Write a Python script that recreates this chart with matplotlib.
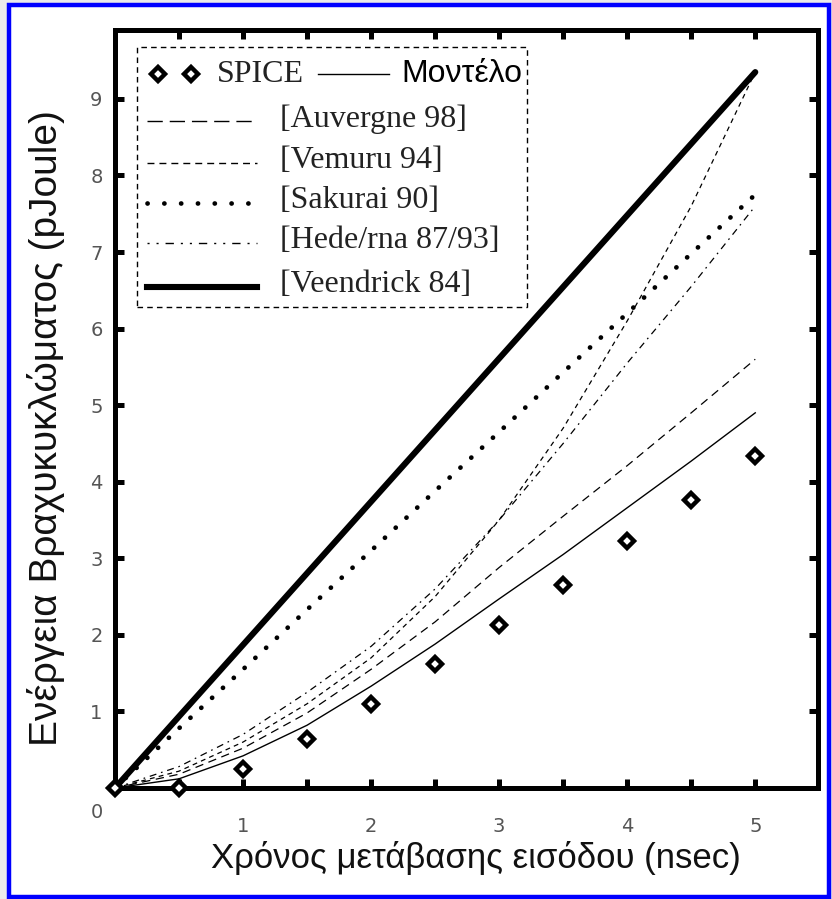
import numpy as np
import matplotlib.pyplot as plt
from matplotlib.lines import Line2D
from matplotlib.patches import Rectangle

plt.rcParams['lines.scale_dashes'] = False

# values (energy in pJoule vs input transition time in nsec)
t = [0, 0.5, 1, 1.5, 2, 2.5, 3, 3.5, 4, 4.5, 5]
spice = [0, 0, 0.25, 0.64, 1.10, 1.62, 2.13, 2.65, 3.22, 3.76, 4.33]
model = [0, 0.12, 0.42, 0.82, 1.33, 1.88, 2.47, 3.05, 3.66, 4.27, 4.90]
auvergne = [0, 0.18, 0.52, 0.98, 1.55, 2.17, 2.88, 3.55, 4.21, 4.90, 5.60]
vemuru = [0, 0.22, 0.60, 1.10, 1.70, 2.50, 3.50, 4.70, 6.10, 7.60, 9.35]
hede = [0, 0.28, 0.70, 1.25, 1.85, 2.60, 3.50, 4.50, 5.55, 6.55, 7.60]
sakurai = [0, 0.78, 1.55, 2.33, 3.10, 3.88, 4.65, 5.43, 6.20, 6.98, 7.75]
t_veen = [0, 5]
veendrick = [0, 9.35]

x_major = [1, 2, 3, 4, 5]
x_minor = [0.5, 1.5, 2.5, 3.5, 4.5]
y_major = [1, 2, 3, 4, 5, 6, 7, 8, 9]

W, H = 832, 899
fig = plt.figure(figsize=(W / 100, H / 100), dpi=100, facecolor='#ebebeb')


def fx(px):
    return px / W


def fy(py):
    return 1 - py / H


fig.patches.append(Rectangle((fx(9), fy(897)), fx(820), (897 - 5) / H,
                             transform=fig.transFigure, facecolor='white',
                             edgecolor='#0000ff', lw=3.2, zorder=-5))

ax = fig.add_axes([fx(115), fy(788), (818 - 115) / W, (788 - 30) / H])
ax.set_facecolor('none')
ax.set_xlim(0, 5.49)
ax.set_ylim(0, 9.9)

for s in ax.spines.values():
    s.set_linewidth(3.6)
ax.set_xticks(x_major)
ax.set_xticks(x_minor, minor=True)
ax.set_yticks(y_major)
ax.tick_params(which='both', direction='in', length=6.2, width=3.6,
               top=True, right=True, labelsize=14, labelcolor='#555555')
ax.tick_params(axis='x', pad=21)
ax.tick_params(axis='y', pad=9)
fig.text(fx(97), fy(812), '0', fontsize=14, color='#555555', ha='center', va='center')

ax.plot(t_veen, veendrick, color='black', lw=4.4, solid_capstyle='round', clip_on=False)
ax.plot(t, sakurai, color='black', lw=3.4, linestyle=(0, (0.1, 10.5)),
        dash_capstyle='round')
ax.plot(t, vemuru, color='black', lw=0.9, linestyle=(0, (3.5, 3)))
ax.plot(t, hede, color='black', lw=0.9, linestyle=(0, (5, 3.5, 1.2, 3.5)))
ax.plot(t, auvergne, color='black', lw=0.9, linestyle=(0, (6, 4)))
ax.plot(t, model, color='black', lw=1.0)
ax.plot(t, spice, linestyle='none', marker='D', markersize=7.2, mew=3.2,
        mec='black', mfc='white', clip_on=False, zorder=5)

# legend drawn by hand, it has two entries on its first row
fig.patches.append(Rectangle((fx(137), fy(307)), (527 - 137) / W, (307 - 47) / H,
                             transform=fig.transFigure, fill=False, edgecolor='black',
                             lw=1.0, linestyle=(0, (4, 3)), zorder=6))
serif = dict(fontsize=23, family='Liberation Serif', color='#222222', va='center')
for px in (158, 191):
    fig.lines.append(Line2D([fx(px)], [fy(74)], marker='D', markersize=7.2, mew=3.2,
                            mec='black', mfc='white', transform=fig.transFigure))
fig.text(fx(217), fy(74), 'SPICE', **serif)
fig.lines.append(Line2D([fx(318), fx(389)], [fy(74), fy(74)], color='black', lw=1.0,
                        transform=fig.transFigure))
fig.text(fx(401), fy(74), 'Μοντέλο', fontsize=23, family='Liberation Sans',
         color='black', va='center')

rows = [
    ('[Auvergne 98]', 121, dict(lw=1.0, linestyle=(0, (11, 5)))),
    ('[Vemuru 94]', 163, dict(lw=1.0, linestyle=(0, (5, 3.6)))),
    ('[Sakurai 90]', 203, dict(lw=3.4, linestyle=(0, (0.1, 12)), dash_capstyle='round')),
    ('[Hede/rna 87/93]', 243, dict(lw=1.0, linestyle=(0, (1.5, 5, 1.5, 5, 6, 5)))),
    ('[Veendrick 84]', 287, dict(lw=4.4)),
]
for label, py, style in rows:
    fig.lines.append(Line2D([fx(147), fx(257)], [fy(py), fy(py)], color='black',
                            transform=fig.transFigure, **style))
    fig.text(fx(280), fy(py - 2), label, **serif)

fig.text(fx(46), fy(428), 'Ενέργεια Βραχυκυκλώματος (pJoule)', rotation=90,
         fontsize=28, family='Liberation Sans', color='#111111', ha='center', va='center')
fig.text(fx(476), fy(858), 'Χρόνος μετάβασης εισόδου (nsec)',
         fontsize=25, family='Liberation Sans', color='#111111', ha='center', va='center')

fig.savefig('out.png', dpi=100, facecolor=fig.get_facecolor())
